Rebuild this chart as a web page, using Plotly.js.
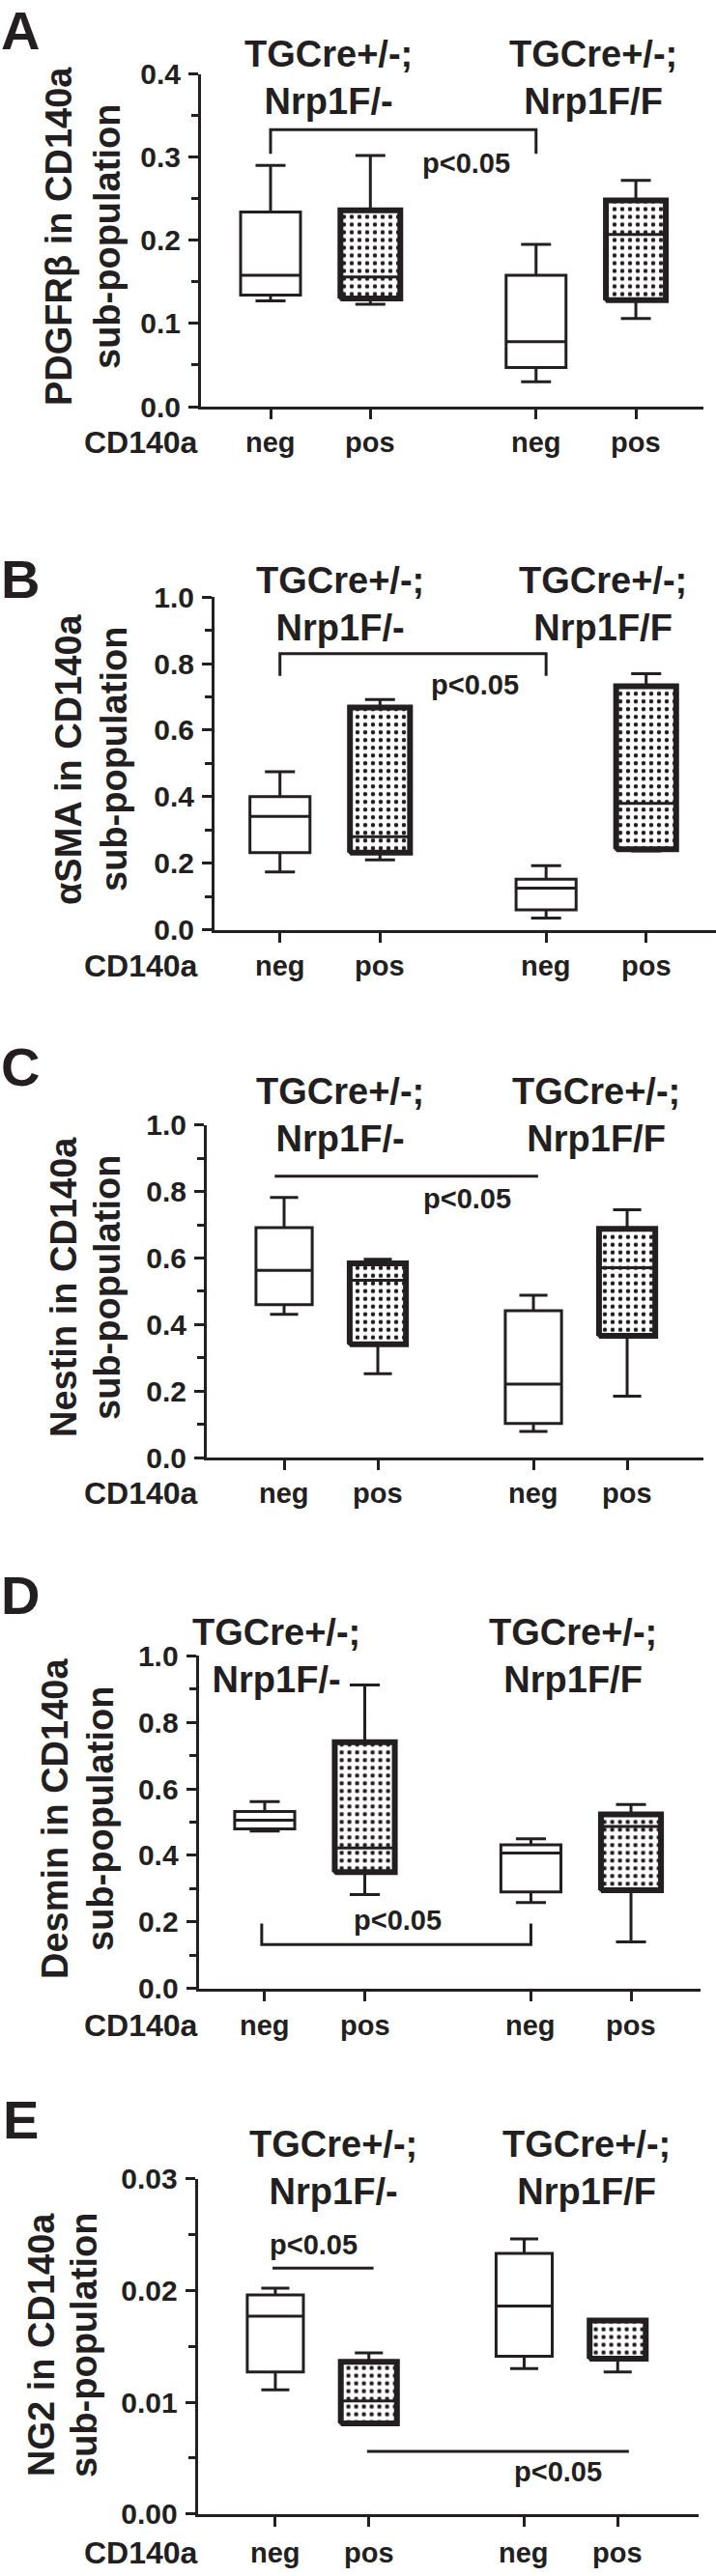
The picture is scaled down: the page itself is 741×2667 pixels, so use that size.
<!DOCTYPE html>
<html>
<head>
<meta charset="utf-8">
<script src="https://cdn.plot.ly/plotly-3.0.1.min.js"></script>
<style>html,body{margin:0;padding:0;background:#fff;}#chart{width:741px;height:2667px;}</style>
</head>
<body>
<div id="chart"></div>
<script>
// ---------------- DATA ----------------
const categories = ['neg', 'pos', 'neg', 'pos'];
const categoryAxisLabel = 'CD140a';
const groupLabels = ['TGCre+/-;<br>Nrp1F/-', 'TGCre+/-;<br>Nrp1F/F'];
const panelLetters = ['A', 'B', 'C', 'D', 'E'];
const yTitleLine1 = ['PDGFRβ in CD140a', 'αSMA in CD140a', 'Nestin in CD140a', 'Desmin in CD140a', 'NG2 in CD140a'];
const yTitleLine2 = ['sub-population', 'sub-population', 'sub-population', 'sub-population', 'sub-population'];
const sigLabel = 'p<0.05';

// Panel A – PDGFRβ
const pdgfrbMin    = [0.127, 0.123, 0.030, 0.106];
const pdgfrbQ1     = [0.134, 0.130, 0.047, 0.128];
const pdgfrbMedian = [0.158, 0.156, 0.078, 0.207];
const pdgfrbQ3     = [0.234, 0.236, 0.158, 0.248];
const pdgfrbMax    = [0.290, 0.302, 0.195, 0.272];

// Panel B – αSMA
const smaMin    = [0.174, 0.210, 0.035, 0.237];
const smaQ1     = [0.232, 0.232, 0.060, 0.242];
const smaMedian = [0.341, 0.280, 0.125, 0.380];
const smaQ3     = [0.400, 0.668, 0.152, 0.732];
const smaMax    = [0.475, 0.692, 0.193, 0.770];

// Panel C – Nestin
const nestinMin    = [0.431, 0.252, 0.079, 0.185];
const nestinQ1     = [0.460, 0.341, 0.103, 0.366];
const nestinMedian = [0.563, 0.533, 0.221, 0.571];
const nestinQ3     = [0.691, 0.584, 0.442, 0.688];
const nestinMax    = [0.782, 0.596, 0.488, 0.745];

// Panel D – Desmin
const desminMin    = [0.473, 0.282, 0.258, 0.140];
const desminQ1     = [0.480, 0.350, 0.290, 0.295];
const desminMedian = [0.506, 0.422, 0.407, 0.487];
const desminQ3     = [0.532, 0.740, 0.432, 0.523];
const desminMax    = [0.562, 0.912, 0.450, 0.553];

// Panel E – NG2
const ng2Min    = [0.0111, 0.0080, 0.0130, 0.0127];
const ng2Q1     = [0.0127, 0.0081, 0.0141, 0.0139];
const ng2Median = [0.0177, 0.0101, 0.0186, 0.0140];
const ng2Q3     = [0.0196, 0.0136, 0.0233, 0.0173];
const ng2Max    = [0.0202, 0.0144, 0.0246, 0.0173];

// significance comparisons: [from category, to category, level, end-tick value (null = plain line)]
const sigA = [[0, 2, 0.333, 0.304]];
const sigB = [[0, 2, 0.830, 0.763]];
const sigC = [[0, 2, 0.846, null]];
const sigD = [[0, 2, 0.132, 0.195]];
const sigE = [[0, 1, 0.0220, null], [1, 3, 0.0056, null]];

const seriesSets = [
  {min: pdgfrbMin, q1: pdgfrbQ1, med: pdgfrbMedian, q3: pdgfrbQ3, max: pdgfrbMax, sig: sigA},
  {min: smaMin, q1: smaQ1, med: smaMedian, q3: smaQ3, max: smaMax, sig: sigB},
  {min: nestinMin, q1: nestinQ1, med: nestinMedian, q3: nestinQ3, max: nestinMax, sig: sigC},
  {min: desminMin, q1: desminQ1, med: desminMedian, q3: desminQ3, max: desminMax, sig: sigD},
  {min: ng2Min, q1: ng2Q1, med: ng2Median, q3: ng2Q3, max: ng2Max, sig: sigE}
];

// ---------------- LAYOUT (positions in page pixels) ----------------
const W = 741, H = 2667;
const ink = '#231f20';
const FONT = 'Liberation Sans, Arial, Helvetica, sans-serif';
const xPositions = [0, 1, 2.66, 3.66];
const boxWidth = 0.6;

const panels = [
  {xL: 208, xR: 728, yT: 76.5, yB: 421, xr: [-0.697, 4.337], ymax: 0.4, dtick: 0.1, minor: 0.05, fmt: '.1f',
   letterY: 31, titleX: [61, 111], titleY: 245, groupX: [340, 614], groupY: 81, labelY: 458,
   sigText: [[482, 169]], sigOver: [[0, 0]]},
  {xL: 222, xR: 741, yT: 618.2, yB: 962.6, xr: [-0.654, 4.358], ymax: 1.0, dtick: 0.2, minor: 0.1, fmt: '.1f',
   letterY: 599, titleX: [71, 118], titleY: 786, groupX: [352, 624], groupY: 625, labelY: 1000,
   sigText: [[491, 709]], sigOver: [[0, 0]]},
  {xL: 214, xR: 728, yT: 1164.7, yB: 1509.1, xr: [-0.825, 4.474], ymax: 1.0, dtick: 0.2, minor: 0.1, fmt: '.1f',
   letterY: 1105, titleX: [66, 111], titleY: 1333, groupX: [352, 617], groupY: 1154, labelY: 1546,
   sigText: [[484, 1241]], sigOver: [[0.1, 0.05]]},
  {xL: 205.6, xR: 725, yT: 1714.3, yB: 2058.7, xr: [-0.66, 4.355], ymax: 1.0, dtick: 0.2, minor: 0.1, fmt: '.1f',
   letterY: 1651, titleX: [57, 104], titleY: 1883, groupX: [286, 593], groupY: 1714, labelY: 2097,
   sigText: [[411, 1988]], sigOver: [[0.03, 0]]},
  {xL: 204.6, xR: 723, yT: 2255.6, yB: 2602.7, xr: [-0.83, 4.525], ymax: 0.03, dtick: 0.01, minor: 0.005, fmt: '.2f',
   letterY: 2194, titleX: [43, 87], titleY: 2428, groupX: [345, 607], groupY: 2244, labelY: 2643,
   sigText: [[324, 2324], [577, 2559]], sigOver: [[0.03, 0.05], [0.02, 0.12]]}
];

const px = x => x / W;
const py = y => 1 - y / H;
const esc = s => s.replace(/</g, '&lt;');

const traces = [];
const annotations = [];
const layout = {
  width: W, height: H,
  margin: {l: 0, r: 0, t: 0, b: 0},
  paper_bgcolor: '#fff', plot_bgcolor: 'rgba(0,0,0,0)',
  showlegend: false, hovermode: false,
  font: {family: FONT, color: ink, weight: 'bold'},
  annotations: annotations
};

function txt(x, y, text, size, extra) {
  return Object.assign({xref: 'paper', yref: 'paper', x: px(x), y: py(y),
    xanchor: 'center', yanchor: 'middle', showarrow: false, text: text,
    font: {family: FONT, size: size, color: ink, weight: 'bold'}}, extra || {});
}

panels.forEach((p, i) => {
  const s = i === 0 ? '' : String(i + 1);
  const d = seriesSets[i];
  const xa = 'x' + s, ya = 'y' + s;

  layout['xaxis' + s] = {
    domain: [px(p.xL), px(p.xR)], range: p.xr, anchor: ya,
    showline: true, linewidth: 3, linecolor: ink,
    ticks: 'outside', ticklen: 10, tickwidth: 3, tickcolor: ink,
    tickmode: 'array', tickvals: xPositions, showticklabels: false,
    showgrid: false, zeroline: false, fixedrange: true
  };
  layout['yaxis' + s] = {
    domain: [py(p.yB), py(p.yT)], range: [0, p.ymax], anchor: xa,
    showline: true, linewidth: 3, linecolor: ink,
    ticks: 'outside', ticklen: 10, tickwidth: 3, tickcolor: ink,
    dtick: p.dtick, tick0: 0, tickformat: p.fmt,
    tickfont: {family: FONT, size: 30, color: ink, weight: 'bold'},
    ticklabelstandoff: 2,
    minor: {dtick: p.minor, tick0: 0, ticks: 'outside', ticklen: 7, tickwidth: 3, tickcolor: ink, showgrid: false},
    showgrid: false, zeroline: false, fixedrange: true
  };

  // box plots (white fill, thin lines)
  traces.push({
    type: 'box', xaxis: xa, yaxis: ya,
    x: xPositions, q1: d.q1, median: d.med, q3: d.q3,
    lowerfence: d.min, upperfence: d.max,
    width: boxWidth, whiskerwidth: 0.5, boxpoints: false,
    fillcolor: '#ffffff', line: {color: ink, width: 3},
    hoverinfo: 'skip', showlegend: false
  });

  // dotted fill + heavy frame for CD140a-positive boxes
  categories.forEach((c, j) => {
    if (c !== 'pos') return;
    const cx = xPositions[j], hw = boxWidth / 2;
    traces.push({
      type: 'scatter', mode: 'lines', xaxis: xa, yaxis: ya,
      x: [cx - hw, cx + hw, cx + hw, cx - hw, cx - hw],
      y: [d.q1[j], d.q1[j], d.q3[j], d.q3[j], d.q1[j]],
      fill: 'toself', fillcolor: 'rgba(0,0,0,0)',
      fillpattern: {shape: '.', size: 8, solidity: 0.25, fgcolor: ink},
      line: {color: ink, width: 6},
      hoverinfo: 'skip', showlegend: false
    });
  });

  // significance lines / brackets
  d.sig.forEach((sg, k) => {
    const [a, b, lvl, tick] = sg;
    const ov = p.sigOver[k];
    const x0 = xPositions[a] - ov[0], x1 = xPositions[b] + ov[1];
    const xs = tick === null ? [x0, x1] : [x0, x0, x1, x1];
    const ys = tick === null ? [lvl, lvl] : [tick, lvl, lvl, tick];
    traces.push({
      type: 'scatter', mode: 'lines', xaxis: xa, yaxis: ya,
      x: xs, y: ys, line: {color: ink, width: 3},
      hoverinfo: 'skip', showlegend: false, cliponaxis: false
    });
  });

  annotations.push(txt(21, p.letterY, panelLetters[i], 56));
  annotations.push(txt(p.titleX[0], p.titleY, yTitleLine1[i], 38, {textangle: -90}));
  annotations.push(txt(p.titleX[1], p.titleY, yTitleLine2[i], 38, {textangle: -90}));
  groupLabels.forEach((g, k) => annotations.push(txt(p.groupX[k], p.groupY, g, 38)));
  annotations.push(txt(146, p.labelY, categoryAxisLabel, 32));
  categories.forEach((c, j) => {
    const a = txt(0, p.labelY, c, 29);
    a.xref = xa; a.x = xPositions[j];
    annotations.push(a);
  });
  p.sigText.forEach(t => annotations.push(txt(t[0], t[1], esc(sigLabel), 29)));
});

Plotly.newPlot('chart', traces, layout, {staticPlot: true, displayModeBar: false});
</script>
</body>
</html>
